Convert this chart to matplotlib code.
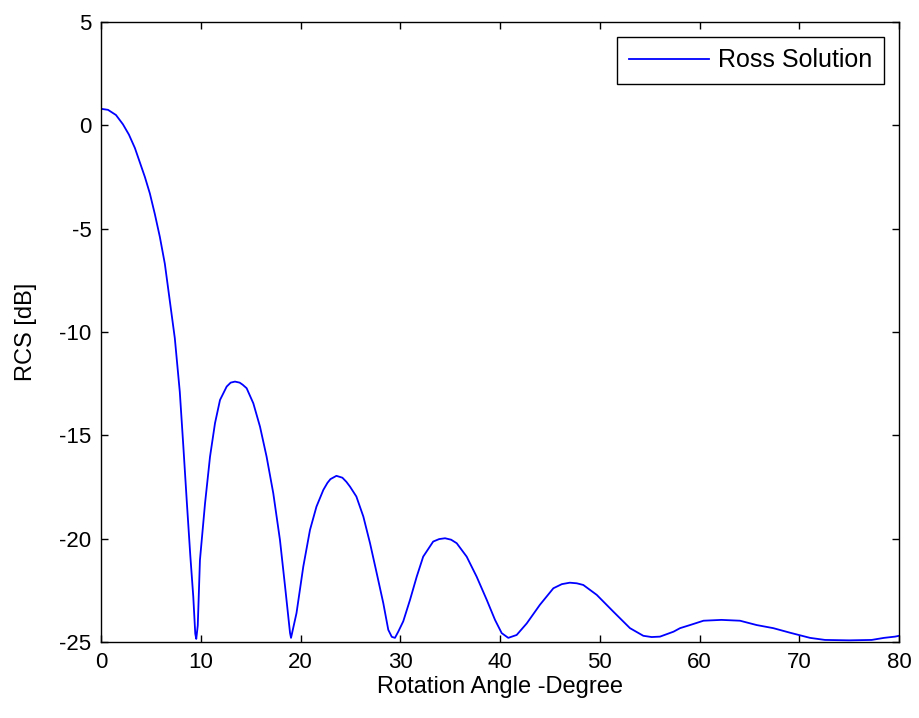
import numpy as np
import matplotlib
matplotlib.use("Agg")
import matplotlib.pyplot as plt

plt.rcParams['font.family'] = ['Liberation Sans', 'DejaVu Sans']
plt.rcParams['axes.unicode_minus'] = False

# values: rotation angle (deg) and RCS (dB)
angle = [0.0, 0.7, 1.5, 2.2, 2.8, 3.4, 3.9, 4.4, 4.9, 5.4, 5.9, 6.4, 6.9,
         7.4, 7.9, 8.25, 8.6, 8.95, 9.25, 9.45, 9.55,
         9.7, 9.92, 10.43, 10.93, 11.43, 11.93, 12.6, 13.0, 13.43, 13.9, 14.2, 14.6,
         15.27, 15.94, 16.6, 17.27, 17.94, 18.45, 18.95, 19.05,
         19.6, 20.28, 20.95, 21.6, 22.29, 22.7, 23.0, 23.6, 24.2, 24.6, 24.96, 25.6,
         26.3, 26.97, 27.64, 28.3, 28.8, 29.15, 29.47,
         29.8, 30.3, 30.98, 31.65, 32.3, 33.3, 33.9, 34.49, 35.1, 35.66, 36.66, 37.66,
         38.67, 39.5, 40.17, 40.83, 41.67, 42.68, 44.0, 45.35, 46.2, 47.0, 47.7,
         48.35, 49.7, 51.36, 53.03, 54.37, 55.2, 56.04, 57.4, 58.05, 59.05,
         60.4, 62.2, 64.06, 65.73, 67.4, 69.07, 71.08, 72.58, 75.0,
         77.26, 78.5, 79.6, 80.0]
rcs = [0.8, 0.75, 0.5, 0.05, -0.45, -1.1, -1.8, -2.5, -3.3, -4.3, -5.4, -6.7, -8.5,
       -10.3, -12.9, -15.5, -18.2, -20.8, -22.8, -24.6, -24.85,
       -24.2, -21.03, -18.29, -16.03, -14.41, -13.29, -12.64, -12.45, -12.4, -12.45, -12.55, -12.72,
       -13.45, -14.58, -16.03, -17.8, -20.06, -22.3, -24.56, -24.8,
       -23.6, -21.35, -19.58, -18.45, -17.64, -17.3, -17.12, -16.96, -17.05, -17.25, -17.48, -17.96,
       -18.93, -20.22, -21.67, -23.12, -24.41, -24.75, -24.8,
       -24.5, -24.0, -22.96, -21.84, -20.87, -20.14, -20.02, -19.98, -20.05, -20.22, -20.87, -21.84,
       -22.96, -23.93, -24.57, -24.8, -24.66, -24.1, -23.2, -22.4, -22.2, -22.13, -22.16,
       -22.24, -22.72, -23.53, -24.33, -24.7, -24.76, -24.74, -24.5, -24.33, -24.18,
       -23.97, -23.93, -23.97, -24.18, -24.33, -24.55, -24.8, -24.9, -24.92,
       -24.9, -24.8, -24.74, -24.7]

xticks = [0, 10, 20, 30, 40, 50, 60, 70, 80]
yticks = [-25, -20, -15, -10, -5, 0, 5]

fig = plt.figure(figsize=(9.19, 7.18), dpi=100)
ax = fig.add_axes([101 / 919, 76 / 718, 798 / 919, 620 / 718])

ax.plot(angle, rcs, color=(0, 0, 1), lw=1.3, label='Ross Solution')

ax.set_xlim(0, 80)
ax.set_ylim(-25, 5)
ax.set_xticks(xticks)
ax.set_yticks(yticks)
ax.tick_params(direction='in', length=5, width=1, top=True, right=True,
               labelsize=16, pad=7)
for s in ax.spines.values():
    s.set_linewidth(1)

ax.set_xlabel('Rotation Angle -Degree', fontsize=17, labelpad=2)
ax.set_ylabel('RCS [dB]', fontsize=17, labelpad=16)

leg = ax.legend(loc='upper right', fontsize=18, fancybox=False,
                edgecolor='black', framealpha=1, handlelength=3.2,
                handletextpad=0.4, borderaxespad=0.6, borderpad=0.45)
leg.get_frame().set_linewidth(1)

fig.savefig('out.png', dpi=100, facecolor='white')
